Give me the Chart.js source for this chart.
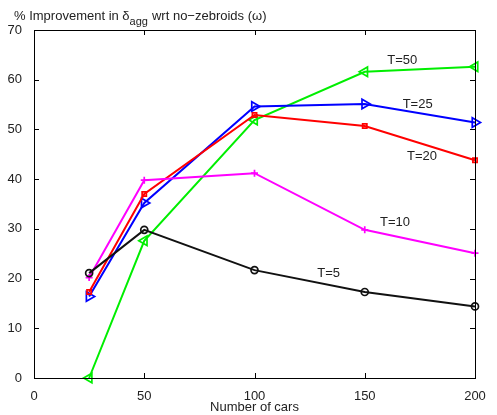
<!DOCTYPE html>
<html>
<head>
<meta charset="utf-8">
<script src="https://cdn.jsdelivr.net/npm/chart.js@4/dist/chart.umd.min.js"></script>
<style>
  html, body { margin: 0; padding: 0; background: #fff; }
  #wrap { width: 497px; height: 415px; }
</style>
</head>
<body>
<div id="wrap"><canvas id="chart" width="497" height="415"></canvas></div>
<script>
// data
const cars = [25, 50, 100, 150, 200];
const t5 = [21.1, 29.8, 21.7, 17.3, 14.4];
const t10 = [20.2, 39.8, 41.2, 29.8, 25.1];
const t20 = [17.3, 37.0, 52.9, 50.7, 43.8];
const t25 = [16.4, 35.2, 54.6, 55.1, 51.4];
const t50 = [0, 27.6, 51.9, 61.6, 62.6];
const seriesLabels = [`T=5`, `T=10`, `T=20`, `T=25`, `T=50`];
// where each T label sits, in data units
const labelX = [133.6, 163.7, 176, 174, 167];
const labelY = [21.1, 31.2, 44.5, 55.1, 63.8];

const FONT = `"Liberation Sans", Arial, sans-serif`;

const toPoints = (values) => values.map((y, i) => ({x: cars[i], y}));

const makeSet = (label, values, color, pointStyle, radius, rotation) => ({
  label,
  data: toPoints(values),
  borderColor: color,
  backgroundColor: `transparent`,
  borderWidth: 2,
  pointStyle,
  pointRadius: radius,
  pointRotation: rotation || 0,
  pointBorderColor: color,
  pointBorderWidth: 1.7,
  pointBackgroundColor: `transparent`,
  tension: 0,
  clip: false
});

// inward ticks on every side plus text annotations, like the matlab figure
const frame = {
  id: `frame`,
  afterDatasetsDraw(chart) {
    const {ctx, chartArea: a, scales: {x, y}} = chart;
    ctx.save();
    ctx.strokeStyle = `#000`;
    ctx.lineWidth = 1;
    ctx.strokeRect(a.left + 0.5, a.top + 0.5, a.right - a.left, a.bottom - a.top);
    ctx.beginPath();
    for (let v = 50; v < 200; v += 50) {
      const px = Math.round(x.getPixelForValue(v)) + 0.5;
      ctx.moveTo(px, a.bottom); ctx.lineTo(px, a.bottom - 5);
      ctx.moveTo(px, a.top); ctx.lineTo(px, a.top + 5);
    }
    for (let v = 10; v < 70; v += 10) {
      const py = Math.round(y.getPixelForValue(v)) + 0.5;
      ctx.moveTo(a.left, py); ctx.lineTo(a.left + 5, py);
      ctx.moveTo(a.right, py); ctx.lineTo(a.right - 5, py);
    }
    ctx.stroke();

    ctx.fillStyle = `#222`;
    ctx.font = `13px ${FONT}`;
    ctx.textAlign = `center`;
    ctx.textBaseline = `middle`;
    seriesLabels.forEach((t, i) => {
      ctx.fillText(t, x.getPixelForValue(labelX[i]), y.getPixelForValue(labelY[i]));
    });

    // title with subscript
    ctx.textAlign = `left`;
    ctx.textBaseline = `alphabetic`;
    let cx = 14;
    const base = 20;
    const part1 = `% Improvement in δ`;
    ctx.fillText(part1, cx, base);
    cx += ctx.measureText(part1).width;
    ctx.font = `11px ${FONT}`;
    ctx.fillText(`agg`, cx, base + 5);
    cx += ctx.measureText(`agg`).width + 4;
    ctx.font = `13px ${FONT}`;
    ctx.fillText(`wrt no−zebroids (ω)`, cx, base);
    ctx.restore();
  }
};

new Chart(document.getElementById(`chart`), {
  type: `line`,
  data: {
    datasets: [
      makeSet(seriesLabels[0], t5, `#111111`, `circle`, 3.5),
      makeSet(seriesLabels[1], t10, `#ff00ff`, `cross`, 3.5),
      makeSet(seriesLabels[2], t20, `#ff0000`, `rect`, 3),
      makeSet(seriesLabels[3], t25, `#0000ff`, `triangle`, 5.5, 90),
      makeSet(seriesLabels[4], t50, `#00ee00`, `triangle`, 5.5, -90)
    ]
  },
  options: {
    responsive: false,
    animation: false,
    layout: {padding: {left: 0, right: 22, top: 30, bottom: 0}},
    plugins: {legend: {display: false}, tooltip: {enabled: false}},
    scales: {
      x: {
        type: `linear`,
        min: 0,
        max: 200,
        afterFit: (s) => { s.height = 37; },
        grid: {display: false},
        border: {display: false},
        ticks: {stepSize: 50, color: `#222`, padding: 3, font: {family: FONT, size: 13}},
        title: {display: true, text: `Number of cars`, color: `#222`, padding: 0, font: {family: FONT, size: 13}}
      },
      y: {
        min: 0,
        max: 70,
        afterFit: (s) => { s.width = 34; },
        grid: {display: false},
        border: {display: false},
        ticks: {stepSize: 10, color: `#222`, padding: 4, font: {family: FONT, size: 13}}
      }
    }
  },
  plugins: [frame]
});
</script>
</body>
</html>
